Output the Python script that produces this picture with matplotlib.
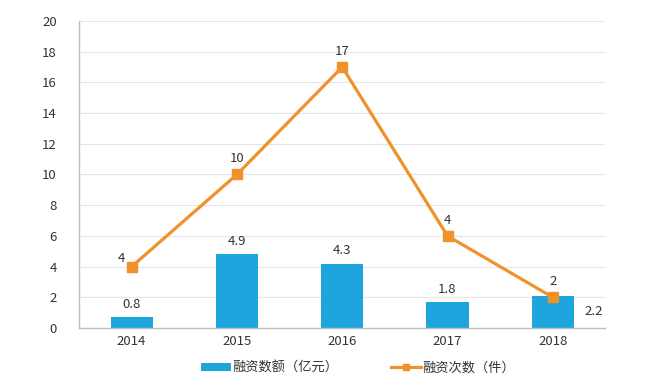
import numpy as np
import matplotlib
matplotlib.use("Agg")
import matplotlib.pyplot as plt

plt.rcParams['font.family'] = ['Noto Sans CJK SC', 'DejaVu Sans']

years = ["2014", "2015", "2016", "2017", "2018"]
amount = [0.7, 4.8, 4.2, 1.7, 2.1]          # bar heights as drawn
amount_labels = ["0.8", "4.9", "4.3", "1.8", "2.2"]
count = [4, 10, 17, 6, 2]                   # line points as drawn
count_labels = ["4", "10", "17", "4", "2"]

bar_color = "#1fa5de"
line_color = "#f0922b"
txt = "#333333"
fs = 9.5

fig = plt.figure(figsize=(6.5, 3.81), dpi=100)
ax = fig.add_axes([0.1215, 0.139, 0.81, 0.806])
x = np.arange(len(years))

bars = ax.bar(x, amount, width=0.4, color=bar_color, zorder=2, label="融资数额（亿元）")
line, = ax.plot(x, count, color=line_color, linewidth=2.3, marker="s", markersize=7,
                zorder=3, label="融资次数（件）")

# bar labels
for i in range(len(years)):
    if i == 4:
        ax.text(x[i] + 0.3, amount[i] - 1.0, amount_labels[i], ha="left", va="center",
                fontsize=fs, color=txt)
    else:
        ax.text(x[i], amount[i] + 0.4, amount_labels[i], ha="center", va="bottom",
                fontsize=fs, color=txt)

# line labels
for i in range(len(years)):
    dx = -0.1 if i == 0 else 0
    dy = 0.1 if i == 0 else 0.6
    ax.text(x[i] + dx, count[i] + dy, count_labels[i], ha="center", va="bottom",
            fontsize=fs, color=txt)

ax.set_xlim(-0.5, 4.5)
ax.set_ylim(0, 20)
ax.set_yticks(np.arange(0, 21, 2))
ax.set_xticks(x)
ax.set_xticklabels(years)
ax.tick_params(axis="both", length=0, labelsize=fs, labelcolor=txt)
ax.tick_params(axis="y", pad=16)
ax.tick_params(axis="x", pad=5)
ax.yaxis.grid(True, color="#e6e6e6", linewidth=0.8, zorder=0)
ax.set_axisbelow(True)
for s in ["top", "right"]:
    ax.spines[s].set_visible(False)
for s in ["left", "bottom"]:
    ax.spines[s].set_color("#bfbfbf")
    ax.spines[s].set_linewidth(1)

ax.legend(handles=[bars, line], loc="upper center", bbox_to_anchor=(0.53, -0.07),
          ncol=2, frameon=False, fontsize=fs, columnspacing=4, handlelength=2.3,
          handleheight=0.5, handletextpad=0.1, markerscale=0.6, labelcolor=txt)

fig.savefig("out.png", dpi=100, facecolor="white")
